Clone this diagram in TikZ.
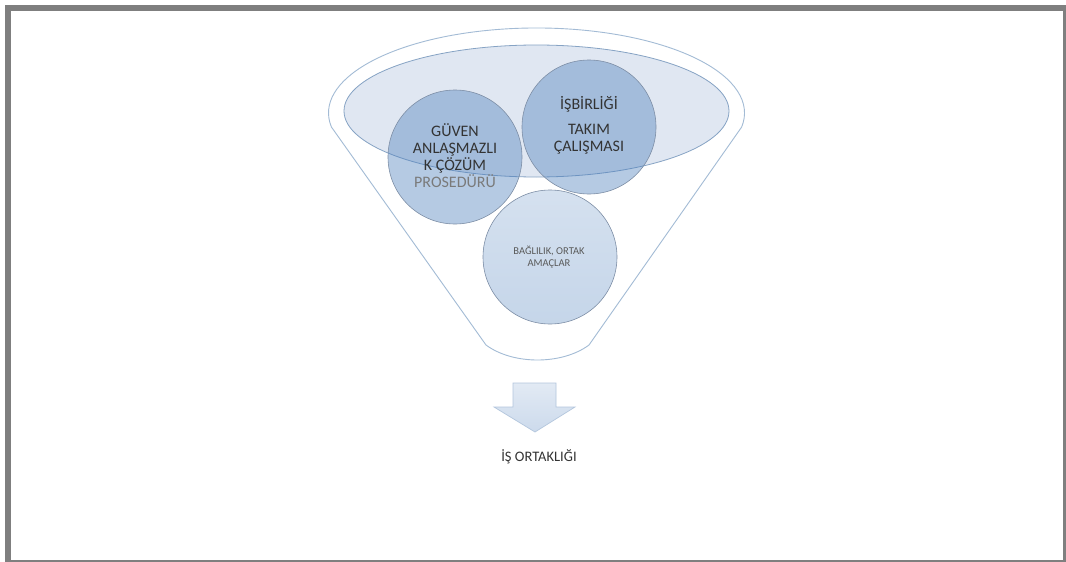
\documentclass[tikz,border=0pt]{standalone}
\usepackage{fontspec}
\setmainfont{Carlito}
\usetikzlibrary{calc,shapes.geometric}
\definecolor{framegray}{HTML}{7F7F7F}
\definecolor{funnelline}{HTML}{A3BBD5}
\definecolor{rimfill}{HTML}{E0E7F2}
\definecolor{rimline}{HTML}{86A3C4}
\definecolor{ballblue}{HTML}{4F81BD}
\definecolor{balledge}{HTML}{7D8EA6}
\definecolor{txtdark}{HTML}{333333}
\definecolor{txtgray}{HTML}{7A7A7A}
\definecolor{txtsoft}{HTML}{5A5A5A}
\definecolor{arrowtop}{HTML}{E2EAF4}
\definecolor{arrowbot}{HTML}{CCDAEC}
\definecolor{arrowline}{HTML}{B3C6DD}
\begin{document}
\begin{tikzpicture}[x=1pt,y=-1pt,
  ball/.style={circle,draw=balledge,line width=0.6pt,fill=ballblue,fill opacity=0.42,minimum size=134pt,inner sep=0pt},
  balltext/.style={text=txtdark,font=\fontsize{16}{17}\selectfont,align=center,inner sep=0pt},
  smalltext/.style={text=txtsoft,font=\fontsize{10.5}{12}\selectfont,align=center,inner sep=0pt}
]
\useasboundingbox (0,0) rectangle (1066,562);
% page frame
\fill[framegray] (5,5) rectangle (1066,562);
\fill[white] (11,11) rectangle (1063,560);

% funnel outline: rim arc, straight sides, rounded base
\draw[funnelline,line width=0.9pt,fill=white]
  (331.4,127) arc[start angle=170.5,end angle=369.5,x radius=208,y radius=85]
  -- (589,345) .. controls (562,365) and (513,365) .. (486,345) -- cycle;

% rim of the funnel
\node[ellipse,draw=rimline,line width=0.8pt,fill=rimfill,minimum width=385pt,minimum height=132pt,inner sep=0pt] (rim) at (536.5,111) {};

% balls
\node[ball] (trust) at (455,157) {};
\node[ball] (coop) at (589,127) {};
\node[circle,draw=balledge,line width=0.6pt,top color=ballblue!24,bottom color=ballblue!33,minimum size=134pt,inner sep=0pt] (commit) at (550,257) {};

% ball labels
\node[balltext] (trusttxt) at (455,155.5) {GÜVEN\\ANLAŞMAZLI\\K ÇÖZÜM\\{\color{txtgray}PROSEDÜRÜ}};
\node[balltext] (cooptxt) at (589,125) {İŞBİRLİĞİ\\[8pt]TAKIM\\ÇALIŞMASI};
\node[smalltext] (committxt) at (549,257) {BAĞLILIK, ORTAK\\AMAÇLAR};

% down arrow and result
\coordinate (arrowtip) at (535,432);
\draw[arrowline,line width=0.7pt,top color=arrowtop,bottom color=arrowbot]
  (513,383) -- (556,383) -- (556,407) -- (575,407) -- (arrowtip) -- (494,407) -- (513,407) -- cycle;
\node[text=txtdark,font=\fontsize{14.5}{16}\selectfont,inner sep=0pt] (result) at (539,457) {İŞ ORTAKLIĞI};
\end{tikzpicture}
\end{document}
